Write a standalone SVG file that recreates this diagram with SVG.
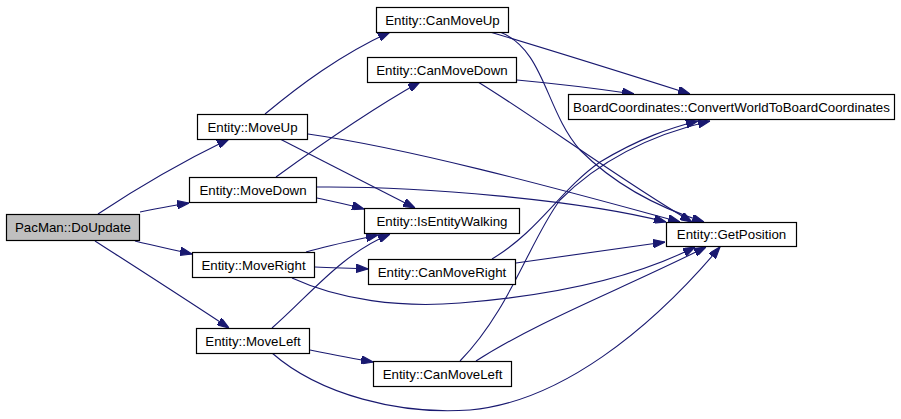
<svg xmlns="http://www.w3.org/2000/svg" width="901" height="419" viewBox="0 0 901 419">
<defs>
<marker id="ah" viewBox="0 0 10 7" refX="10" refY="3.5" markerWidth="12" markerHeight="8.5" markerUnits="userSpaceOnUse" orient="auto">
<path d="M0,0 L10,3.5 L0,7 Z" fill="#191970" stroke="#191970"/>
</marker>
<style>
.n rect{fill:#fff;stroke:#000;stroke-width:1.2}
.n text{font-family:"Liberation Sans",Arial,sans-serif;font-size:13.3px;fill:#000;text-anchor:middle}
#e path{fill:none;stroke:#191970;stroke-width:1.1;marker-end:url(#ah)}
</style>
</defs>
<rect width="901" height="419" fill="#fff"/>
<g id="e">
<path d="M98,214 C140,186 190,158 229,139"/>
<path d="M140,212 C160,208 175,205 189,203"/>
<path d="M135,241 C155,246 175,250 192,254"/>
<path d="M95,241 C140,270 190,302 229,328"/>
<path d="M265,114 C300,85 340,55 390,32"/>
<path d="M280,139 C330,165 380,190 415,208"/>
<path d="M308,134 C420,150 580,195 680,222"/>
<path d="M276,177 C320,145 370,110 420,82"/>
<path d="M317,198 C335,202 350,205 364,209"/>
<path d="M317,187 C420,186 580,200 666,222"/>
<path d="M306,252 C330,245 355,240 378,235"/>
<path d="M272,328 C310,295 340,255 390,234"/>
<path d="M315,267 C335,268 350,268 368,269"/>
<path d="M292,278 C340,300 400,308 460,303 C560,295 640,275 695,247"/>
<path d="M310,350 C330,354 350,358 373,362"/>
<path d="M272,353 C320,395 400,415 470,410 C560,402 650,330 720,247"/>
<path d="M490,32 C560,53 630,75 690,94"/>
<path d="M500,32 C545,50 545,110 580,150 C610,180 650,205 704,222"/>
<path d="M517,80 C560,84 600,89 634,94"/>
<path d="M478,82 C540,120 620,180 692,222"/>
<path d="M492,259 C540,230 560,190 600,162 C640,138 670,128 698,121"/>
<path d="M460,361 C510,310 530,240 560,200 C600,160 650,135 710,121"/>
<path d="M516,263 C570,255 620,248 665,242"/>
<path d="M476,361 C540,320 620,290 706,247"/>
</g>
<g id="n0" class="n"><rect x="6.5" y="214.5" width="133" height="26" style="fill:#bfbfbf"/><text x="73" y="232">PacMan::DoUpdate</text></g>
<g id="n1" class="n"><rect x="197.5" y="114.5" width="110" height="25"/><text x="252.5" y="131.5">Entity::MoveUp</text></g>
<g id="n2" class="n"><rect x="189.5" y="177.5" width="127" height="25"/><text x="253" y="194.5">Entity::MoveDown</text></g>
<g id="n3" class="n"><rect x="192.5" y="252.5" width="122" height="25"/><text x="253.5" y="269.5">Entity::MoveRight</text></g>
<g id="n4" class="n"><rect x="196.5" y="328.5" width="113" height="25"/><text x="253" y="345.5">Entity::MoveLeft</text></g>
<g id="n5" class="n"><rect x="376.5" y="7.5" width="132" height="25"/><text x="442.5" y="24.5">Entity::CanMoveUp</text></g>
<g id="n6" class="n"><rect x="367.5" y="57.5" width="149" height="25"/><text x="442" y="74.5">Entity::CanMoveDown</text></g>
<g id="n7" class="n"><rect x="364.5" y="208.5" width="155" height="25"/><text x="442" y="225.5">Entity::IsEntityWalking</text></g>
<g id="n8" class="n"><rect x="368.5" y="259.5" width="147" height="25"/><text x="442" y="276.5">Entity::CanMoveRight</text></g>
<g id="n9" class="n"><rect x="373.5" y="361.5" width="138" height="25"/><text x="442.5" y="378.5">Entity::CanMoveLeft</text></g>
<g id="n10" class="n"><rect x="568.5" y="94.5" width="326" height="25"/><text x="731.5" y="111.5">BoardCoordinates::ConvertWorldToBoardCoordinates</text></g>
<g id="n11" class="n"><rect x="666.5" y="222.5" width="130" height="24"/><text x="731.5" y="239">Entity::GetPosition</text></g>
</svg>
